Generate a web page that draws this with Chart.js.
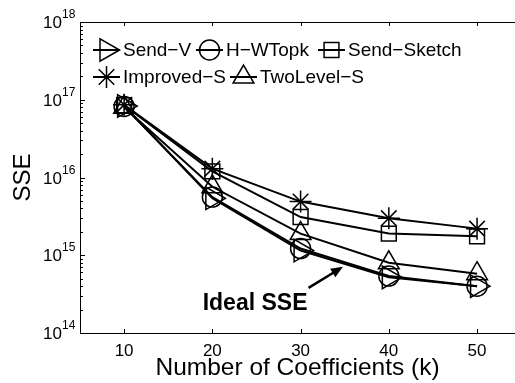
<!DOCTYPE html>
<html>
<head>
<meta charset="utf-8">
<script src="https://cdn.jsdelivr.net/npm/chart.js@4/dist/chart.umd.min.js"></script>
<style>
  html, body { margin: 0; padding: 0; background: #fff; }
  #wrap { width: 515px; height: 383px; }
</style>
</head>
<body>
<div id="wrap"><canvas id="c"></canvas></div>
<script>
// values
const coefficients = [10, 20, 30, 40, 50];
const sendV = [8.3e16, 5.4e15, 1.15e15, 5.2e14, 4.0e14];
const hWTopk = [8.2e16, 5.6e15, 1.22e15, 5.4e14, 4.0e14];
const sendSketch = [8.5e16, 1.2e16, 3.1e15, 1.9e15, 1.75e15];
const improvedS = [8.6e16, 1.3e16, 4.9e15, 3.0e15, 2.2e15];
const twoLevelS = [8.0e16, 7.6e15, 1.9e15, 8.0e14, 5.8e14];

const seriesNames = ["Send−V", "H−WTopk", "Send−Sketch", "Improved−S", "TwoLevel−S"];
const xTicks = [10, 20, 30, 40, 50];
const yExponents = [14, 15, 16, 17, 18];

const FONT = '"Liberation Sans", Arial, Helvetica, sans-serif';

const markers = [
  { pointStyle: "triangle", rotation: 90, radius: 13 },
  { pointStyle: "circle", rotation: 0, radius: 10 },
  { pointStyle: "rect", rotation: 0, radius: 10.5 },
  { pointStyle: "star", rotation: 0, radius: 11 },
  { pointStyle: "triangle", rotation: 0, radius: 12 },
];

const seriesValues = [sendV, hWTopk, sendSketch, improvedS, twoLevelS];

const datasets = seriesNames.map((name, i) => ({
  label: name,
  data: coefficients.map((x, j) => ({ x, y: seriesValues[i][j] })),
  borderColor: "#000",
  borderWidth: 2,
  pointStyle: markers[i].pointStyle,
  pointRotation: markers[i].rotation,
  pointRadius: markers[i].radius,
  pointBorderColor: "#000",
  pointBackgroundColor: "rgba(0,0,0,0)",
  pointBorderWidth: 1.5,
  tension: 0,
  clip: false,
}));

// ticks inside the box, 10^n labels, legend and the "Ideal SSE" note
const matlabLook = {
  id: "matlabLook",
  afterDraw(chart) {
    const { ctx, chartArea: a, scales } = chart;
    const xs = scales.x, ys = scales.y;
    ctx.save();
    ctx.strokeStyle = "#000";
    ctx.fillStyle = "#000";
    ctx.lineWidth = 1;

    // top edge
    ctx.beginPath();
    ctx.moveTo(a.left, a.top + 0.5);
    ctx.lineTo(a.right, a.top + 0.5);
    ctx.stroke();

    // x ticks, bottom and top
    xTicks.forEach((v) => {
      const px = Math.round(xs.getPixelForValue(v)) + 0.5;
      ctx.beginPath();
      ctx.moveTo(px, a.bottom);
      ctx.lineTo(px, a.bottom - 4);
      ctx.moveTo(px, a.top);
      ctx.lineTo(px, a.top + 4);
      ctx.stroke();
    });

    // y ticks (major + minor) on the left
    yExponents.forEach((e) => {
      const py = Math.round(ys.getPixelForValue(Math.pow(10, e))) + 0.5;
      ctx.beginPath();
      ctx.moveTo(a.left, py);
      ctx.lineTo(a.left + 5, py);
      ctx.stroke();
      if (e < 18) {
        for (let k = 2; k <= 9; k++) {
          const my = Math.round(ys.getPixelForValue(k * Math.pow(10, e))) + 0.5;
          ctx.beginPath();
          ctx.moveTo(a.left, my);
          ctx.lineTo(a.left + 3, my);
          ctx.stroke();
        }
      }
      // label 10^e
      ctx.textBaseline = "middle";
      ctx.textAlign = "right";
      ctx.font = "17px " + FONT;
      ctx.fillText("10", a.left - 18, py + 1);
      ctx.textAlign = "left";
      ctx.font = "12px " + FONT;
      ctx.fillText(String(e), a.left - 18, py - 8);
    });

    // legend, two rows
    const legendSlots = [
      { x: 93, y: 50 }, { x: 196, y: 50 }, { x: 318, y: 50 },
      { x: 93, y: 77 }, { x: 230, y: 77 },
    ];
    const lineLen = 27;
    ctx.font = "19px " + FONT;
    ctx.textAlign = "left";
    ctx.textBaseline = "middle";
    seriesNames.forEach((name, i) => {
      const s = legendSlots[i];
      ctx.lineWidth = 2;
      ctx.beginPath();
      ctx.moveTo(s.x, s.y);
      ctx.lineTo(s.x + lineLen, s.y);
      ctx.stroke();
      ctx.lineWidth = 1.5;
      ctx.fillStyle = "rgba(0,0,0,0)";
      Chart.helpers.drawPoint(ctx, {
        pointStyle: markers[i].pointStyle,
        rotation: markers[i].rotation,
        radius: markers[i].radius,
        borderWidth: 1.5,
      }, s.x + lineLen / 2, s.y);
      ctx.fillStyle = "#000";
      ctx.fillText(name, s.x + lineLen + 3, s.y + 1);
    });

    // "Ideal SSE" note with arrow, placed in data units
    const tx = xs.getPixelForValue(18.9), ty = ys.getPixelForValue(1.95e14);
    ctx.font = "bold 23px " + FONT;
    ctx.textBaseline = "alphabetic";
    ctx.fillText("Ideal SSE", tx, ty);
    const x0 = xs.getPixelForValue(30.9), y0 = ys.getPixelForValue(3.8e14);
    const x1 = xs.getPixelForValue(34.8), y1 = ys.getPixelForValue(7.1e14);
    const ang = Math.atan2(y1 - y0, x1 - x0);
    ctx.lineWidth = 2.5;
    ctx.beginPath();
    ctx.moveTo(x0, y0);
    ctx.lineTo(x1 - 8 * Math.cos(ang), y1 - 8 * Math.sin(ang));
    ctx.stroke();
    ctx.beginPath();
    ctx.moveTo(x1, y1);
    ctx.lineTo(x1 - 12 * Math.cos(ang) + 5 * Math.sin(ang), y1 - 12 * Math.sin(ang) - 5 * Math.cos(ang));
    ctx.lineTo(x1 - 12 * Math.cos(ang) - 5 * Math.sin(ang), y1 - 12 * Math.sin(ang) + 5 * Math.cos(ang));
    ctx.closePath();
    ctx.fill();

    ctx.restore();
  },
};

new Chart(document.getElementById("c"), {
  type: "line",
  data: { datasets },
  plugins: [matlabLook],
  options: {
    responsive: true,
    maintainAspectRatio: false,
    animation: false,
    layout: { autoPadding: false, padding: { top: 22, right: 0, left: 0, bottom: 0 } },
    plugins: { legend: { display: false }, tooltip: { enabled: false } },
    scales: {
      x: {
        type: "linear",
        min: 5,
        max: 54.3,
        afterBuildTicks: (s) => { s.ticks = xTicks.map((v) => ({ value: v })); },
        afterFit: (s) => { s.height = 50; s.paddingLeft = 0; s.paddingRight = 0; },
        grid: { display: false, drawTicks: false },
        border: { display: true, color: "#000", width: 1 },
        ticks: { color: "#000", padding: 8, font: { family: FONT, size: 17 } },
        title: {
          display: true,
          text: "Number of Coefficients (k)",
          color: "#000",
          font: { family: FONT, size: 24.5 },
          padding: { top: 0, bottom: 0 },
        },
      },
      y: {
        type: "logarithmic",
        min: 1e14,
        max: 1e18,
        afterFit: (s) => { s.width = 80; s.paddingTop = 0; s.paddingBottom = 0; },
        grid: { display: false, drawTicks: false },
        border: { display: true, color: "#000", width: 1 },
        ticks: { display: false },
        title: {
          display: true,
          text: "SSE",
          color: "#000",
          font: { family: FONT, size: 24 },
          padding: { top: 9, bottom: 0 },
        },
      },
    },
  },
});
</script>
</body>
</html>
